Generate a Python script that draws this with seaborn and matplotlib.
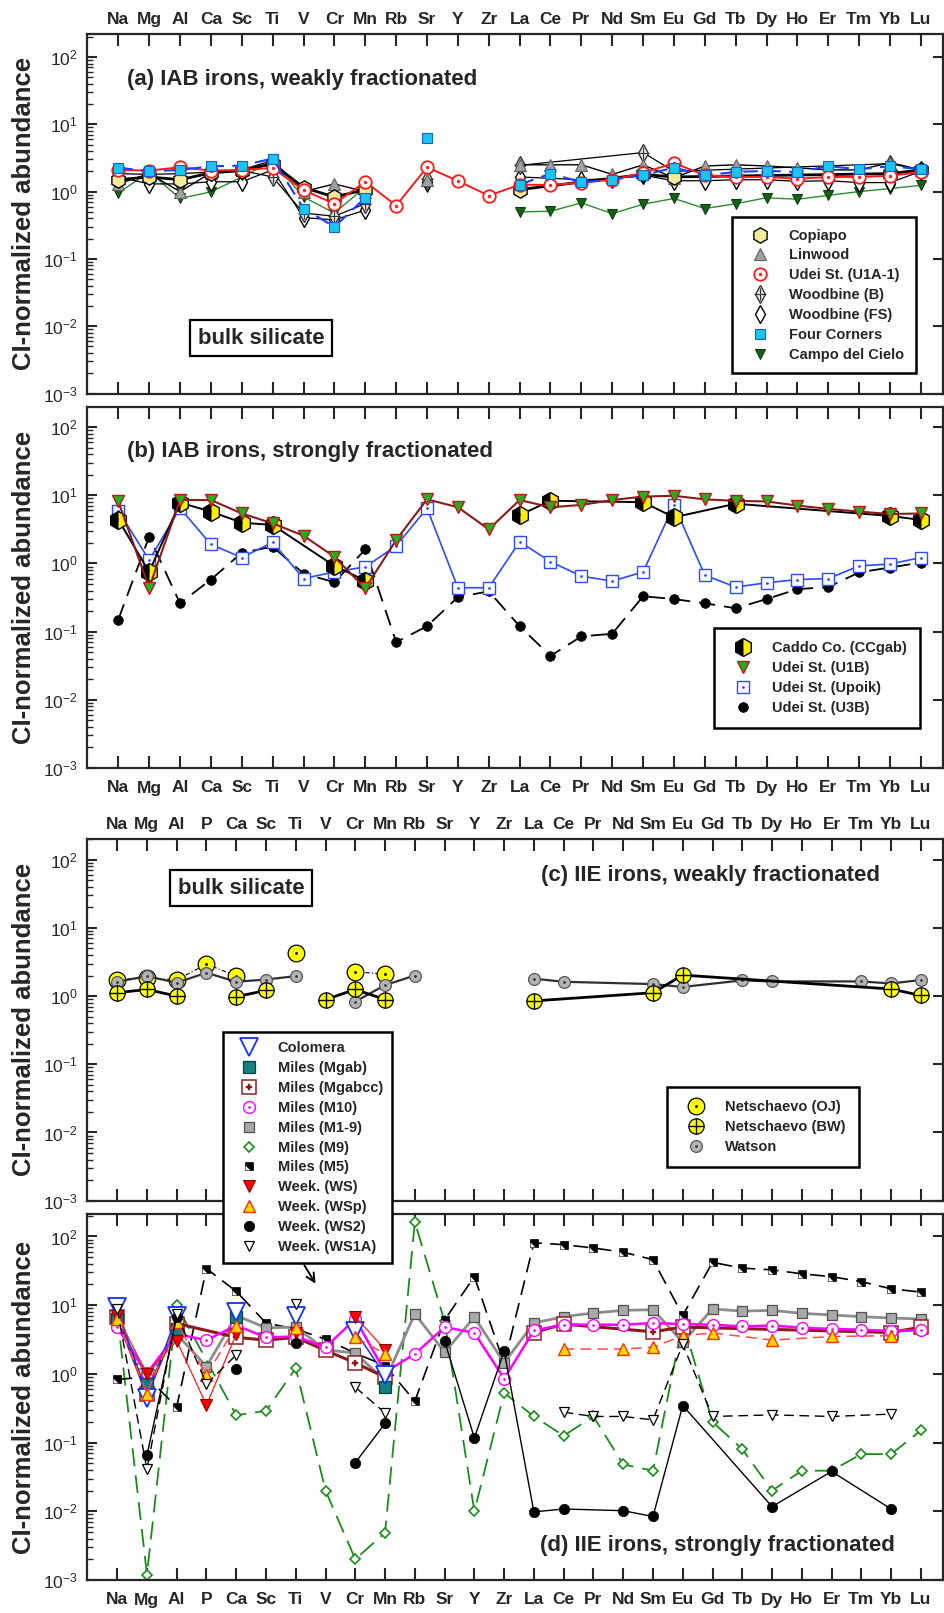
"""CI-normalized abundances of silicate inclusions in IAB and IIE irons (four panels)."""

import matplotlib

matplotlib.use("Agg")

import matplotlib.pyplot as plt
import numpy as np
import pandas as pd
import seaborn as sns
from matplotlib.lines import Line2D
from matplotlib.patches import FancyArrowPatch
from matplotlib.ticker import FixedLocator, FuncFormatter, LogLocator, NullFormatter

NA = None     # not measured, the line runs on to the next point
BR = np.nan   # not measured, the line stops here

ELEMENTS_AB = ["Na", "Mg", "Al", "Ca", "Sc", "Ti", "V", "Cr", "Mn", "Rb", "Sr", "Y", "Zr",
               "La", "Ce", "Pr", "Nd", "Sm", "Eu", "Gd", "Tb", "Dy", "Ho", "Er", "Tm", "Yb", "Lu"]
ELEMENTS_CD = ["Na", "Mg", "Al", "P", "Ca", "Sc", "Ti", "V", "Cr", "Mn", "Rb", "Sr", "Y", "Zr",
               "La", "Ce", "Pr", "Nd", "Sm", "Eu", "Gd", "Tb", "Dy", "Ho", "Er", "Tm", "Yb", "Lu"]

# (a) IAB irons, weakly fractionated
COPIAPO = [1.5, 1.65, 1.5, 1.9, 2.05, 2.6, 1.15, 0.83, 1.07, BR, BR, BR, BR,
           1.07, NA, NA, NA, 1.8, 1.65, NA, NA, NA, NA, NA, NA, 1.85, 2.1]
LINWOOD = [1.3, 1.85, 1.0, 1.9, 2.1, 2.9, 1.0, 1.3, 1.0, BR, 1.5, BR, BR,
           2.5, 2.5, 2.5, 1.8, 2.5, 1.6, 2.4, 2.5, 2.4, 2.25, 2.1, 2.1, 2.7, 2.1]
U1A1 = [2.1, 2.05, 2.3, 2.05, 2.1, 2.25, 1.05, 0.66, 1.4, 0.62, 2.3, 1.44, 0.87,
        1.27, 1.25, 1.36, 1.5, 1.9, 2.65, 1.75, 1.65, 1.65, 1.55, 1.65, 1.65, 1.72, 1.95]
WOOD_B = [1.85, 1.8, 1.85, 1.95, 2.05, 1.65, 0.48, 0.43, 0.66, BR, 1.55, BR, BR,
          2.45, NA, NA, NA, 3.8, 2.0, NA, NA, NA, NA, NA, NA, 2.6, 2.1]
WOOD_FS = [1.65, 1.3, 1.3, 1.4, 1.4, 2.1, 0.41, 0.38, 0.53, BR, 1.4, BR, BR,
           1.65, NA, 1.5, 1.55, 1.75, 1.45, 1.45, 1.5, 1.5, 1.42, 1.45, 1.36, 1.36, 2.0]
FOUR_CORNERS = [2.27, 2.0, 2.1, 2.38, 2.43, 3.1, 0.56, 0.30, 0.81, BR, 6.3, BR, BR,
                1.27, 1.85, 1.38, 1.5, 1.75, 2.27, 1.75, 1.96, 2.03, 1.96, 2.38, 2.15, 2.38, 2.15]
CAMPO = [0.95, 1.96, 0.79, 0.99, 1.65, 2.85, 0.83, 0.48, 1.17, BR, 1.17, BR, BR,
         0.50, 0.51, 0.68, 0.47, 0.65, 0.79, 0.56, 0.66, 0.81, 0.77, 0.88, 1.0, 1.11, 1.24]

# (b) IAB irons, strongly fractionated
CADDO = [4.4, 0.75, 7.8, 5.75, 3.96, 3.66, NA, 0.92, 0.56, BR, BR, BR, BR,
         5.1, 8.3, NA, NA, 7.9, 4.75, NA, 7.5, NA, NA, NA, NA, 4.97, 4.34]
U1B = [8.1, 0.44, 8.5, 8.5, 5.4, 3.87, 2.55, 1.25, 0.43, 2.2, 8.7, 6.66, 3.16,
       8.5, 6.66, 7.2, 8.5, 9.55, 9.8, 8.7, 8.26, 8.1, 7.05, 6.3, 5.75, 5.3, 5.4]
UPOIK = [5.95, 1.12, 6.45, 1.9, 1.22, 2.04, 0.6, 0.75, 0.89, 1.8, 6.45, 0.44, 0.44,
         2.08, 1.06, 0.65, 0.55, 0.75, 7.2, 0.67, 0.45, 0.52, 0.58, 0.6, 0.92, 0.98, 1.22]
U3B = [0.15, 2.47, 0.26, 0.58, 1.43, 1.76, 0.71, 0.53, 1.6, 0.070, 0.12, 0.32, 0.39,
       0.12, 0.044, 0.085, 0.093, 0.33, 0.30, 0.26, 0.22, 0.30, 0.42, 0.45, 0.74, 0.87, 1.03]

# (c) IIE irons, weakly fractionated
NETSCH_OJ = [1.75, 1.86, 1.72, 2.95, 1.96, BR, 4.3, BR, 2.27, 2.1] + [BR] * 18
NETSCH_BW = [1.12, 1.25, 1.0, BR, 0.98, 1.21, BR, 0.89, 1.25, 0.89, BR, BR, BR, BR,
             0.85, NA, NA, NA, 1.12, 2.03, NA, NA, NA, NA, NA, NA, 1.27, 1.02]
WATSON = [1.62, 1.96, 1.57, 2.2, 1.62, 1.75, 1.96, BR, 0.83, 1.45, 2.0, BR, BR, BR,
          1.8, 1.62, NA, NA, 1.5, 1.36, NA, 1.7, 1.64, NA, NA, 1.64, 1.53, 1.72]

# (d) IIE irons, strongly fractionated
COLOMERA = [9.4, 0.45, 7.0, BR, 7.9, BR, 7.0, BR, 4.2, 0.95] + [BR] * 18
MILES_MGAB = [6.3, 0.71, 4.5, BR, 6.8, BR, BR, BR, BR, 0.64] + [BR] * 18
MILES_MGABCC = [6.8, 0.51, 5.4, NA, 3.4, 3.1, 3.4, 2.19, 1.45, 0.89, BR, BR, BR, BR,
                4.0, 5.3, NA, NA, 4.1, 4.8, NA, NA, NA, NA, NA, NA, 4.0, 4.8]
MILES_M10 = [4.8, 1.02, 3.8, 3.1, 5.06, 3.4, 3.5, 2.44, 6.3, 1.06, 1.95, 4.8, 3.95, 0.85,
             4.3, 5.2, 5.2, 5.2, 5.5, 5.3, 5.2, 4.9, 5.06, 4.7, 4.5, 4.4, 4.2, 4.3]
MILES_M1_9 = [5.06, 0.95, 3.8, 1.28, 7.07, 4.68, 4.8, 2.24, 2.0, 0.8, 7.5, 2.07, 6.7, 1.45,
              5.5, 6.8, 7.7, 8.4, 8.6, 2.9, 8.8, 8.2, 8.4, 7.6, 7.2, 6.8, 6.5, 6.3]
MILES_M9 = [7.5, 0.0012, 9.9, NA, 0.25, 0.29, 1.21, 0.02, 0.002, 0.0049, 162, 5.8, 0.01, 0.53,
            0.24, 0.126, 0.24, 0.048, 0.039, 5.6, 0.2, 0.08, 0.02, 0.039, 0.039, 0.068, 0.068, 0.15]
MILES_M5 = [0.83, 0.9, 0.33, 34, 15.9, 5.5, 4.5, 3.2, 2.0, 1.32, 0.4, 6.1, 26, 1.4,
            81, 76, 68, 59, 46, 7.1, 42, 34.6, 32.7, 28.6, 26, 22, 17.3, 15.5]
WEEK_WS = [7.0, 0.99, 3.05, 0.35, 3.8, BR, 3.9, BR, 6.8, 2.24] + [BR] * 18
WEEK_WSP = [6.3, 0.51, 5.6, 0.95, 5.06, BR, 4.7, BR, 3.4, 1.96, BR, BR, BR, BR,
            BR, 2.3, NA, 2.3, 2.44, 3.6, 3.95, NA, 3.1, NA, 3.5, NA, 3.6, BR]
WEEK_WS2 = [BR, 0.065, 6.8, BR, 1.16, BR, 2.8, BR, 0.051, 0.19, BR, 3.0, 0.117, 2.14,
            0.0098, 0.0108, NA, 0.0102, 0.0084, 0.346, NA, NA, 0.0117, NA, 0.038, NA, 0.0108, BR]
WEEK_WS1A = [8.8, 0.041, 7.5, 0.71, 1.89, BR, 10.4, BR, 0.64, 0.27, BR, BR, BR, BR,
             BR, 0.277, 0.24, 0.24, 0.214, 2.7, 0.24, NA, 0.253, NA, 0.24, NA, 0.26, BR]

W, H = 945, 1613
DASHED = (0, (7, 4))
LONG_DASH = (0, (9, 5))


def mk(marker, size, face, edge, mew=1.0, **extra):
    style = dict(marker=marker, markersize=size, markerfacecolor=face,
                 markeredgecolor=edge, markeredgewidth=mew)
    style.update(extra)
    return style


def ln(color="black", width=1.0, style="-"):
    return dict(color=color, linewidth=width, linestyle=style)


def dot(color, size=2.0):
    return mk("o", size, color, color, 0.5)


# label, values, line style, marker style, inner marker
SERIES_A = [
    ("Campo del Cielo", CAMPO, ln("#2e8b2e", 1.0), mk("v", 6.5, "#176017", "#0d400d", 0.8), None),
    ("Woodbine (FS)", WOOD_FS, ln("black", 0.9), mk("d", 9, "white", "black", 1.0), None),
    ("Woodbine (B)", WOOD_B, ln("black", 0.9), mk("d", 9, "#e6e6e6", "#333333", 1.0),
     mk("+", 9, "#333333", "#333333", 0.8)),
    ("Linwood", LINWOOD, ln("black", 1.0), mk("^", 8, "#a0a0a0", "#606060", 0.8), None),
    ("Copiapo", COPIAPO, ln("black", 2.0), mk("h", 11, "#f2ec9a", "black", 1.0), None),
    ("Udei St. (U1A-1)", U1A1, ln("#ff1a1a", 1.4), mk("o", 9, "white", "#ff1a1a", 1.3), dot("#ff1a1a")),
    ("Four Corners", FOUR_CORNERS, ln("#1f3cff", 1.5, DASHED), mk("s", 6.5, "#1cc4f2", "#1560d0", 0.8), None),
]
LEGEND_A = ["Copiapo", "Linwood", "Udei St. (U1A-1)", "Woodbine (B)", "Woodbine (FS)",
            "Four Corners", "Campo del Cielo"]

SERIES_B = [
    ("Udei St. (U3B)", U3B, ln("black", 1.3, LONG_DASH), mk("o", 7, "black", "black", 0.5), None),
    ("Udei St. (Upoik)", UPOIK, ln("#2a4bff", 1.2), mk("s", 8, "white", "#2a4bff", 1.0), dot("#2a4bff", 1.4)),
    ("Caddo Co. (CCgab)", CADDO, ln("black", 1.4),
     mk("h", 13, "#ffee00", "black", 1.0, fillstyle="right", markerfacecoloralt="black"), None),
    ("Udei St. (U1B)", U1B, ln("#8b1a1a", 1.5), mk("v", 8, "#22b022", "#cc1111", 1.0), None),
]
LEGEND_B = ["Caddo Co. (CCgab)", "Udei St. (U1B)", "Udei St. (Upoik)", "Udei St. (U3B)"]

SERIES_C = [
    ("Netschaevo (OJ)", NETSCH_OJ, ln("black", 0.8, (0, (4, 2, 1, 2))),
     mk("o", 12, "#ffff00", "black", 0.9), dot("black", 1.5)),
    ("Watson", WATSON, ln("#303030", 1.6), mk("o", 8.5, "#b4b4b4", "#555555", 0.9), dot("#333333", 1.4)),
    ("Netschaevo (BW)", NETSCH_BW, ln("black", 2.0), mk("o", 11, "#ffff00", "black", 0.9),
     mk("+", 11, "black", "black", 1.0)),
]
LEGEND_C = ["Netschaevo (OJ)", "Netschaevo (BW)", "Watson"]

M5_CORNER = [(-0.5, -0.5), (0.1, -0.5), (-0.5, 0.1)]
SERIES_D = [
    ("Miles (M9)", MILES_M9, ln("#1a8c1a", 1.3, (0, (10, 5))), mk("D", 5.5, "white", "#1a8c1a", 1.2), None),
    ("Miles (M5)", MILES_M5, ln("black", 1.2, (0, (9, 5))), mk("s", 5.5, "black", "black", 0.5),
     mk(M5_CORNER, 5.5, "white", "white", 0.0)),
    ("Miles (M1-9)", MILES_M1_9, ln("#8c8c8c", 2.0), mk("s", 7, "#a9a9a9", "#505050", 0.9), None),
    ("Miles (Mgabcc)", MILES_MGABCC, ln("#8b1a1a", 2.2), mk("s", 10, "white", "#8b2020", 1.1),
     mk("P", 5, "#8b1a1a", "#8b1a1a", 0.3)),
    ("Miles (M10)", MILES_M10, ln("#ff00ff", 1.8), mk("o", 8.5, "white", "#ff00ff", 1.0), dot("#ff00ff", 1.4)),
    ("Miles (Mgab)", MILES_MGAB, ln("#138080", 1.3, (0, (1, 2))), mk("s", 8.5, "#138080", "#0a4040", 0.9), None),
    ("Colomera", COLOMERA, ln("#1030ff", 1.1), mk("v", 13, "white", "#1030ff", 1.3), None),
    ("Week. (WS)", WEEK_WS, ln("#ff1a1a", 0.9), mk("v", 8, "#ff0000", "#8b0000", 0.8), None),
    ("Week. (WSp)", WEEK_WSP, ln("#ff4a4a", 1.1, DASHED), mk("^", 8, "#ffd700", "#ff3300", 1.0), None),
    ("Week. (WS2)", WEEK_WS2, ln("black", 1.0), mk("o", 7.5, "black", "black", 0.5), None),
    ("Week. (WS1A)", WEEK_WS1A, ln("black", 1.0, DASHED), mk("v", 7, "white", "black", 0.9), None),
]
LEGEND_D = ["Colomera", "Miles (Mgab)", "Miles (Mgabcc)", "Miles (M10)", "Miles (M1-9)", "Miles (M9)",
            "Miles (M5)", "Week. (WS)", "Week. (WSp)", "Week. (WS2)", "Week. (WS1A)"]


def split_points(values):
    """Turn a value list into x/y rows; a break value starts a new line segment."""
    rows, seg = [], 0
    for i, v in enumerate(values):
        if v is None:
            continue
        if np.isnan(v):
            seg += 1
            continue
        rows.append((i, v, seg))
    return pd.DataFrame(rows, columns=["x", "y", "seg"])


def draw_series(ax, values, line, marker, inner):
    points = split_points(values)
    sns.lineplot(data=points, x="x", y="y", units="seg", estimator=None, sort=True,
                 ax=ax, legend=False, **line, **marker)
    if inner:
        sns.lineplot(data=points, x="x", y="y", units="seg", estimator=None, ax=ax,
                     legend=False, linestyle="none", color=inner["markeredgecolor"], **inner)


def legend_handle(marker, inner):
    base = Line2D([], [], linestyle="none", **marker)
    if inner:
        return (base, Line2D([], [], linestyle="none", **inner))
    return base


def add_legend(fig, series, order, left_px, top_px, pad):
    lookup = {s[0]: legend_handle(s[3], s[4]) for s in series}
    leg = fig.legend([lookup[name] for name in order], order, loc="upper left",
                     bbox_to_anchor=(left_px / W, 1 - top_px / H), bbox_transform=fig.transFigure,
                     borderaxespad=0, borderpad=pad, labelspacing=0.4, handlelength=2.2,
                     handletextpad=0.9, fancybox=False, framealpha=1,
                     prop=dict(weight="bold", size=10.5))
    leg.get_frame().set_edgecolor("black")
    leg.get_frame().set_linewidth(1.8)
    return leg


def style_axes(ax, labels, x_right, y_top, labeltop):
    ax.set_yscale("log")
    ax.set_xlim(-1.0, x_right)
    ax.set_ylim(1e-3, 10 ** y_top)
    ax.set_xticks(range(len(labels)))
    ax.set_xticklabels(labels, fontweight="bold", fontsize=12.5)
    ax.tick_params(axis="x", which="major", direction="in", length=8.5, width=1.5,
                   top=True, bottom=True, labeltop=labeltop, labelbottom=not labeltop,
                   pad=5 if labeltop else 9)
    ax.yaxis.set_major_locator(FixedLocator([1e-3, 1e-2, 1e-1, 1e0, 1e1, 1e2]))
    ax.yaxis.set_major_formatter(FuncFormatter(
        lambda v, _: r"$\mathregular{10^{%d}}$" % round(np.log10(v))))
    ax.yaxis.set_minor_locator(LogLocator(base=10, subs=np.arange(2, 10)))
    ax.yaxis.set_minor_formatter(NullFormatter())
    ax.tick_params(axis="y", which="major", direction="in", length=7, width=1.5,
                   left=True, right=True, labelsize=12.5, pad=7)
    ax.tick_params(axis="y", which="minor", direction="in", length=4, width=1.0,
                   left=True, right=False)
    for spine in ax.spines.values():
        spine.set_linewidth(1.6)
    ax.set_xlabel("")
    ax.set_ylabel("")


def fig_text(fig, x_px, y_px, text, **kw):
    fig.text(x_px / W, 1 - y_px / H, text, **kw)


sns.set_style("ticks")
plt.rcParams["font.family"] = ["Liberation Sans", "DejaVu Sans"]
plt.rcParams["mathtext.fontset"] = "custom"
plt.rcParams["mathtext.rm"] = "Liberation Sans"

fig = plt.figure(figsize=(W / 100, H / 100), dpi=100)
left, width = 87.4 / W, (943.5 - 87.4) / W
# (top px, bottom px) for each panel
panel_px = [(34.3, 393.5), (406.7, 768.0), (839.0, 1200.7), (1214.0, 1580.0)]
axes = [fig.add_axes([left, 1 - b / H, width, (b - t) / H]) for t, b in panel_px]
ax_a, ax_b, ax_c, ax_d = axes

for ax, series in [(ax_a, SERIES_A), (ax_b, SERIES_B), (ax_c, SERIES_C), (ax_d, SERIES_D)]:
    ax.set_yscale("log")
    for _, values, line, marker, inner in series:
        draw_series(ax, values, line, marker, inner)

style_axes(ax_a, ELEMENTS_AB, 26.73, 2.337, True)
style_axes(ax_b, ELEMENTS_AB, 26.73, 2.298, False)
style_axes(ax_c, ELEMENTS_CD, 27.76, 2.303, True)
style_axes(ax_d, ELEMENTS_CD, 27.76, 2.327, False)

for t, b in panel_px:
    fig_text(fig, 24, (t + b) / 2, "CI-normalized abundance", rotation=90, ha="center",
             va="center", fontsize=18.5, fontweight="bold")

title_kw = dict(fontsize=16, fontweight="bold", ha="left", va="center")
fig_text(fig, 127, 80, "(a) IAB irons, weakly fractionated", **title_kw)
fig_text(fig, 127, 452, "(b) IAB irons, strongly fractionated", **title_kw)
fig_text(fig, 541, 876, "(c) IIE irons, weakly fractionated", **title_kw)
fig_text(fig, 540, 1545, "(d) IIE irons, strongly fractionated", **title_kw)

box_kw = dict(fontsize=16, fontweight="bold", ha="center", va="center",
              bbox=dict(boxstyle="square,pad=0.35", fc="white", ec="black", lw=1.6))
fig_text(fig, 261, 338, "bulk silicate", **box_kw)
fig_text(fig, 241, 888, "bulk silicate", **box_kw)

add_legend(fig, SERIES_A, LEGEND_A, 732, 217, 0.8)
add_legend(fig, SERIES_B, LEGEND_B, 714, 628, 0.9)
add_legend(fig, SERIES_C, LEGEND_C, 667, 1087, 0.9)
add_legend(fig, SERIES_D, LEGEND_D, 223, 1032, 0.65)

fig.add_artist(FancyArrowPatch((303 / W, 1 - 1263 / H), (317 / W, 1 - 1286 / H),
                               transform=fig.transFigure, arrowstyle="->,head_length=6,head_width=3",
                               color="black", lw=1.4, zorder=10))

fig.savefig("out.png", dpi=100)
